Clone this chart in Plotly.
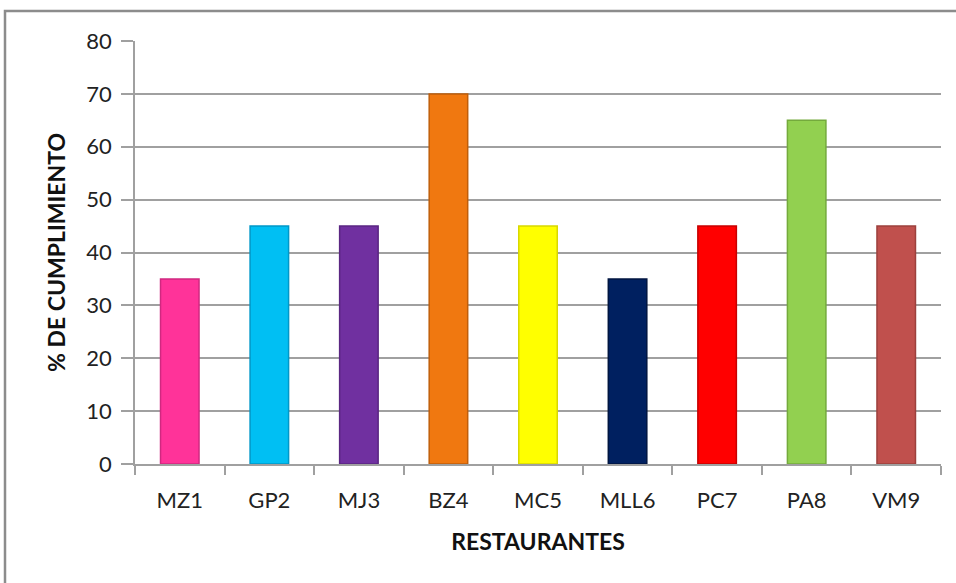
import plotly.graph_objects as go

# Compliance percentage per restaurant
restaurantes = ["MZ1", "GP2", "MJ3", "BZ4", "MC5", "MLL6", "PC7", "PA8", "VM9"]
cumplimiento = [35, 45, 45, 70, 45, 35, 45, 65, 45]
colores = ["#FF3399", "#00BFF3", "#7030A0", "#F07810", "#FFFF00",
           "#002060", "#FF0000", "#92D050", "#C0504D"]
bordes = ["#D02880", "#0098C8", "#5A2682", "#C05E0A", "#D8D800",
          "#001540", "#C80000", "#74AA3C", "#9C403D"]

W, H = 956, 583
L, R, T, B = 135, 15, 41, 119
pw, ph = W - L - R, H - T - B

fig = go.Figure(go.Bar(
    x=restaurantes,
    y=cumplimiento,
    width=0.43,
    marker=dict(color=colores, line=dict(color=bordes, width=1.5)),
))

font_fam = "Lato, 'Open Sans', sans-serif"

fig.update_layout(
    width=W, height=H,
    margin=dict(l=L, r=R, t=T, b=B),
    paper_bgcolor="white",
    plot_bgcolor="white",
    showlegend=False,
    font=dict(family=font_fam, color="#222222", size=22),
    xaxis=dict(
        title=dict(text="<b>RESTAURANTES</b>", font=dict(size=23, color="#111111"), standoff=22),
        showline=True, linecolor="#a0a0a0", linewidth=1.5,
        ticks="outside", tickson="boundaries", ticklen=9, tickcolor="#a0a0a0", tickwidth=1.5,
        tickfont=dict(size=22, color="#222222"),
        ticklabelstandoff=16,
    ),
    yaxis=dict(
        title=dict(text="<b>% DE CUMPLIMIENTO</b>", font=dict(size=23, color="#111111"), standoff=14),
        range=[0, 80], dtick=10,
        showline=True, linecolor="#a0a0a0", linewidth=1.5,
        showgrid=True, gridcolor="#a0a0a0", gridwidth=1.5,
        zeroline=False,
        ticks="outside", ticklen=12, tickcolor="#a0a0a0", tickwidth=1.5,
        tickfont=dict(size=22, color="#222222"),
        ticklabelstandoff=5,
    ),
    shapes=[dict(
        type="rect", xref="paper", yref="paper",
        x0=(5 - L) / pw, x1=(965 - L) / pw,
        y0=(T + ph - 600) / ph, y1=(T + ph - 11) / ph,
        line=dict(color="#8c8c8c", width=2.5),
        fillcolor="rgba(0,0,0,0)", layer="below",
    )],
)

fig.write_html("out.html")
